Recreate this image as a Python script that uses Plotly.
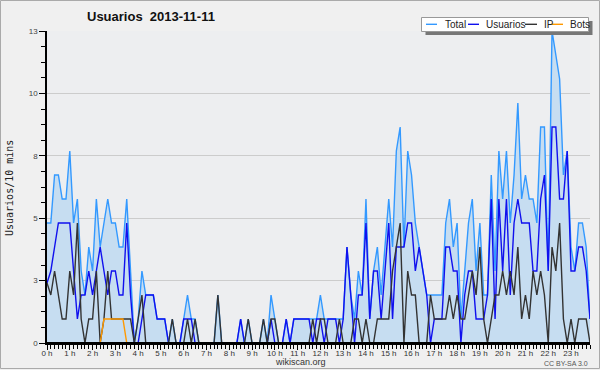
import plotly.graph_objects as go

# 10-minute slots of the day (0..143)
slots = list(range(144))
hour_ticks = [h * 6 for h in range(24)]
hour_labels = [f"{h} h" for h in range(24)]

y_tickvals = [0, 2.6, 5.2, 7.8, 10.4, 13]
y_ticktext = ["0", "3", "5", "8", "10", "13"]

total = [5, 5, 7, 7, 6, 6, 8, 5, 6, 3, 2, 4, 3, 6, 4, 5, 6, 5, 5, 4, 4, 6, 3, 0,
         1, 3, 2, 2, 2, 1, 1, 1, 0, 1, 0, 0, 1, 2, 1, 1, 0, 0, 0, 0, 0, 2, 0, 0,
         0, 0, 0, 1, 0, 1, 0, 0, 0, 1, 0, 2, 1, 0, 0, 1, 0, 1, 1, 1, 1, 1, 1, 1,
         2, 1, 1, 1, 1, 1, 1, 4, 2, 1, 3, 2, 6, 1, 3, 4, 2, 4, 6, 4, 8, 9, 4, 8,
         7, 5, 4, 3, 2, 2, 2, 2, 2, 5, 6, 4, 5, 1, 3, 5, 6, 3, 5, 2, 2, 7, 3, 8,
         6, 8, 5, 7, 10, 6, 7, 6, 6, 5, 9, 9, 3, 13, 12, 11, 7, 8, 4, 3, 5, 5, 4, 1]

usuarios = [2.5, 3, 4, 5, 5, 5, 5, 3, 1, 2, 2, 3, 2, 3, 4, 3, 2, 3, 3, 2, 2, 5, 2, 0,
            0, 1, 2, 2, 2, 1, 1, 1, 0, 0, 0, 0, 1, 1, 1, 0, 0, 0, 0, 0, 0, 0, 0, 0,
            0, 0, 0, 1, 0, 0, 0, 0, 0, 0, 0, 1, 0, 0, 0, 1, 0, 1, 1, 1, 1, 1, 0, 1,
            1, 0, 1, 1, 1, 0, 1, 4, 2, 0, 2, 2, 5, 1, 3, 3, 1, 3, 5, 1, 4, 4, 4, 5,
            5, 3, 4, 3, 2, 0, 1, 1, 1, 4, 4, 3, 3, 0, 2, 3, 3, 1, 1, 1, 2, 6, 1, 6,
            3, 6, 2, 5, 6, 5, 5, 5, 3, 3, 6, 7, 3, 9, 9, 6, 6, 8, 3, 3, 4, 4, 3, 1]

ip = [2.5, 2, 3, 2, 1, 1, 3, 2, 5, 1, 0, 1, 1, 3, 0, 1, 3, 1, 1, 1, 1, 1, 1, 0,
      1, 2, 0, 0, 0, 0, 0, 0, 0, 1, 0, 0, 0, 1, 0, 1, 0, 0, 0, 0, 0, 2, 0, 0,
      0, 0, 0, 0, 0, 1, 0, 0, 0, 1, 0, 1, 1, 0, 0, 0, 0, 0, 0, 0, 0, 0, 1, 0,
      1, 1, 0, 0, 0, 1, 0, 0, 0, 1, 1, 0, 1, 0, 0, 1, 1, 1, 1, 3, 4, 5, 0, 3,
      2, 2, 0, 0, 0, 2, 1, 1, 1, 1, 2, 1, 2, 1, 1, 2, 3, 2, 4, 1, 0, 1, 2, 2,
      3, 2, 3, 2, 4, 1, 2, 1, 3, 2, 3, 2, 0, 4, 3, 5, 1, 0, 1, 0, 1, 1, 1, 0]

bots = [0, 0, 0, 0, 0, 0, 0, 0, 0, 0, 0, 0, 0, 0, 0, 1, 1, 1, 1, 1, 1, 0, 0, 0,
        0, 0, 0, 0, 0, 0, 0, 0, 0, 0, 0, 0, 0, 0, 0, 0, 0, 0, 0, 0, 0, 0, 0, 0,
        0, 0, 0, 0, 0, 0, 0, 0, 0, 0, 0, 0, 0, 0, 0, 0, 0, 0, 0, 0, 0, 0, 0, 0,
        0, 0, 0, 0, 0, 0, 0, 0, 0, 0, 0, 0, 0, 0, 0, 0, 0, 0, 0, 0, 0, 0, 0, 0,
        0, 0, 0, 0, 0, 0, 0, 0, 0, 0, 0, 0, 0, 0, 0, 0, 0, 0, 0, 0, 0, 0, 0, 0,
        0, 0, 0, 0, 0, 0, 0, 0, 0, 0, 0, 0, 0, 0, 0, 0, 0, 0, 0, 0, 0, 0, 0, 0]

series_names = ["Total", "Usuarios", "IP", "Bots"]
series_colors = ["#3399ff", "#1010ee", "#333333", "#ff9900"]

W, H = 600, 370
ML, MR, MT, MB = 47, 10, 31, 27
PW, PH = W - ML - MR, H - MT - MB


def px(x):
    return (x - ML) / PW


def py(y):
    return (H - MB - y) / PH


fig = go.Figure()
fig.add_trace(go.Scatter(x=slots, y=total, mode="lines", fill="tozeroy",
                         fillcolor="rgb(198,221,241)",
                         line=dict(color=series_colors[0], width=1.4),
                         name="Total", showlegend=False, hoverinfo="skip"))
for name, data, col in zip(series_names[1:], [usuarios, ip, bots], series_colors[1:]):
    fig.add_trace(go.Scatter(x=slots, y=data, mode="lines",
                             line=dict(color=col, width=1.4),
                             name=name, showlegend=False, hoverinfo="skip"))

shapes = []
annotations = []

# black baseline over the zero-valued segments (as the axis line in the reference)
shapes.append(dict(type="line", xref="paper", yref="paper",
                   x0=px(46), x1=px(590), y0=0, y1=0,
                   line=dict(color="black", width=2), layer="above"))

# custom legend: shadow, box, line samples, labels
shapes.append(dict(type="rect", xref="paper", yref="paper",
                   x0=px(425.5), x1=px(592.5), y0=py(35), y1=py(21),
                   fillcolor="#777777", line=dict(width=0), layer="above"))
shapes.append(dict(type="rect", xref="paper", yref="paper",
                   x0=px(421.5), x1=px(588.5), y0=py(31.5), y1=py(17.5),
                   fillcolor="white", line=dict(color="#999999", width=1), layer="above"))
legend_items = [(426, 437, 442.5), (468, 479, 484), (525, 537, 541.5), (551.5, 563, 567.5)]
for (lx0, lx1, tx), name, col in zip(legend_items, series_names, series_colors):
    shapes.append(dict(type="line", xref="paper", yref="paper",
                       x0=px(lx0), x1=px(lx1), y0=py(24.3), y1=py(24.3),
                       line=dict(color=col, width=1.4), layer="above"))
    annotations.append(dict(text=name, xref="paper", yref="paper",
                            x=px(tx), y=py(24.5), xanchor="left", yanchor="middle",
                            showarrow=False,
                            font=dict(family="Liberation Sans", size=10, color="#222222")))

# title
annotations.append(dict(text="<b>Usuarios  2013-11-11</b>", xref="paper", yref="paper",
                        x=px(150.5), y=py(16.5), xanchor="center", yanchor="middle",
                        showarrow=False,
                        font=dict(family="Liberation Sans", size=13, color="#111111")))
# y axis title
annotations.append(dict(text="Usuarios/10 mins", xref="paper", yref="paper",
                        x=px(9), y=py(188), xanchor="center", yanchor="middle",
                        textangle=-90, showarrow=False,
                        font=dict(family="DejaVu Sans Mono", size=10, color="#222222")))
# footer texts
annotations.append(dict(text="wikiscan.org", xref="paper", yref="paper",
                        x=px(300.5), y=py(361.5), xanchor="center", yanchor="middle",
                        showarrow=False,
                        font=dict(family="Liberation Sans", size=9, color="#333333")))
annotations.append(dict(text="CC BY-SA 3.0", xref="paper", yref="paper",
                        x=px(590), y=py(363), xanchor="right", yanchor="middle",
                        showarrow=False,
                        font=dict(family="Liberation Sans", size=7, color="#555555")))

# outer frame
shapes.append(dict(type="rect", xref="paper", yref="paper",
                   x0=px(0.5), x1=px(599.5), y0=py(368.5), y1=py(0.5),
                   line=dict(color="#aaaaaa", width=1), layer="below"))

fig.update_layout(
    width=W, height=H,
    margin=dict(l=ML, r=MR, t=MT, b=MB, pad=0),
    paper_bgcolor="#f0f0f0",
    plot_bgcolor="#edeef0",
    showlegend=False,
    hovermode=False,
    shapes=shapes,
    annotations=annotations,
    xaxis=dict(range=[0, 143], showgrid=False, zeroline=False,
               showline=True, linecolor="black", linewidth=1.5,
               ticks="outside", ticklen=5, tickwidth=1, tickcolor="black",
               tickvals=hour_ticks, ticktext=hour_labels, ticklabelstandoff=-3,
               tickfont=dict(family="Liberation Sans", size=8, color="#333333"),
               minor=dict(dtick=1, tick0=0, ticks="outside", ticklen=4,
                          tickcolor="black", tickwidth=1, showgrid=False)),
    yaxis=dict(range=[0, 13], showgrid=True, gridcolor="#cccccc", gridwidth=1,
               zeroline=False, showline=True, linecolor="black", linewidth=1.5,
               ticks="outside", ticklen=6, tickwidth=1, tickcolor="black",
               tickvals=y_tickvals, ticktext=y_ticktext,
               tickfont=dict(family="Liberation Sans", size=8, color="#444444"),
               minor=dict(dtick=0.65, tick0=0, ticks="outside", ticklen=4,
                          tickcolor="black", tickwidth=1, showgrid=False)),
)

fig.write_html("out.html", config={"displayModeBar": False},
               post_script="document.body.style.margin='0';document.body.style.overflow='hidden';")
